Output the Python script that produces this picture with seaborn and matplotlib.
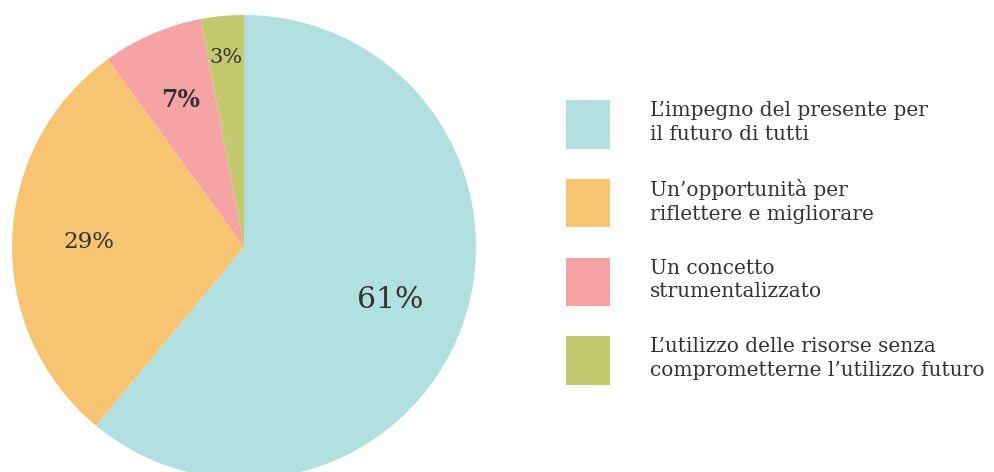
import numpy as np
import matplotlib
matplotlib.use("Agg")
import matplotlib.pyplot as plt
import seaborn as sns
from matplotlib.patches import Patch

# Risposte (percentuali)
labels = [
    "L\u2019impegno del presente per\nil futuro di tutti",
    "Un\u2019opportunit\u00e0 per\nriflettere e migliorare",
    "Un concetto\nstrumentalizzato",
    "L\u2019utilizzo delle risorse senza\ncomprometterne l\u2019utilizzo futuro",
]
values = [61, 29, 7, 3]
colors = ["#b2dfe0", "#f7c571", "#f6a3a5", "#c4c86f"]

sns.set_style("white")
plt.rcParams["font.family"] = ["DejaVu Serif"]
text_color = "#333333"

fig = plt.figure(figsize=(9.94, 4.72), dpi=100)
ax = fig.add_axes([12 / 994, (472 - 479) / 472, 464 / 994, 464 / 472])

wedges, texts, autotexts = ax.pie(
    values, colors=colors, startangle=90, counterclock=False,
    autopct="%d%%", pctdistance=0.67,
    wedgeprops=dict(linewidth=0),
    textprops=dict(color=text_color),
)
ax.set_xlim(-1, 1)
ax.set_ylim(-1, 1)
ax.set_aspect("equal")

# dimensione, peso e distanza dal centro delle etichette
sizes = [21.5, 16.5, 17, 15]
weights = ["normal", "normal", "bold", "normal"]
dists = [0.67, 0.67, 0.69, 0.82]
for w, t, s, wt, d in zip(wedges, autotexts, sizes, weights, dists):
    ang = np.deg2rad((w.theta1 + w.theta2) / 2)
    t.set_position((d * np.cos(ang), d * np.sin(ang)))
    t.set_fontsize(s)
    t.set_fontweight(wt)

handles = [Patch(facecolor=c, edgecolor="none") for c in colors]
leg = fig.legend(
    handles, labels, loc="upper left", bbox_to_anchor=(558 / 994, 1 - 92 / 472),
    frameon=False, fontsize=14.5, handlelength=2.2, handleheight=3.33,
    handletextpad=1.95, labelspacing=1.5, borderaxespad=0,
)
for t in leg.get_texts():
    t.set_color(text_color)
    t.set_linespacing(1.3)

fig.savefig("out.png", dpi=100)
